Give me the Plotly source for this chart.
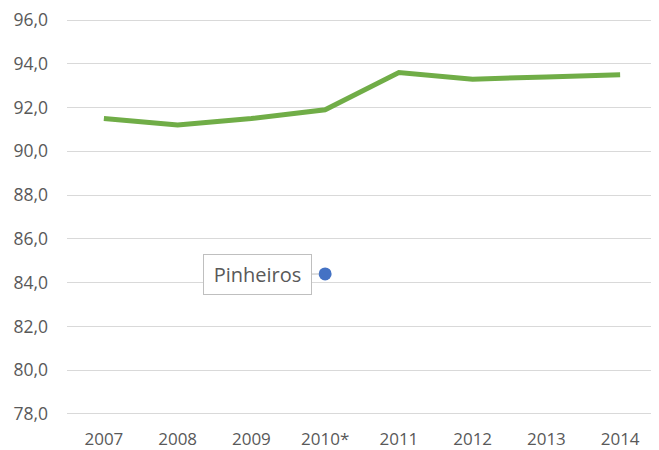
import plotly.graph_objects as go

years = ["2007", "2008", "2009", "2010*", "2011", "2012", "2013", "2014"]
series_values = [91.5, 91.2, 91.5, 91.9, 93.6, 93.3, 93.4, 93.5]
point_category = ["2010*"]
point_value = [84.4]
point_label = "Pinheiros"
y_ticks = [78, 80, 82, 84, 86, 88, 90, 92, 94, 96]

font_family = "Open Sans, Liberation Sans, sans-serif"
text_color = "#595959"

fig = go.Figure()
fig.add_trace(go.Scatter(
    x=years, y=series_values, mode="lines",
    line=dict(color="#70AD47", width=5, shape="linear"),
    showlegend=False, hoverinfo="skip",
))
fig.add_trace(go.Scatter(
    x=point_category, y=point_value, mode="markers",
    marker=dict(color="#4472C4", size=13, line=dict(width=0)),
    showlegend=False,
))

fig.add_annotation(
    x=point_category[0], y=point_value[0], text=point_label,
    showarrow=True, arrowhead=0, arrowwidth=1, arrowcolor="#BFBFBF",
    ax=-68, ay=1, standoff=6, width=95,
    bordercolor="#BFBFBF", borderwidth=1, borderpad=6, bgcolor="white",
    font=dict(family=font_family, size=20, color=text_color),
)

# page body has an 8px default margin; margins compensate for it
fig.update_layout(
    width=659, height=450,
    margin=dict(l=59, r=10, t=11, b=43),
    paper_bgcolor="white", plot_bgcolor="white",
    separators=",.",
    font=dict(family=font_family, size=17, color=text_color),
    xaxis=dict(
        type="category", range=[-0.5, 7.5], automargin=False,
        showgrid=False, showline=False, zeroline=False,
        ticks="", ticklabelstandoff=12,
        tickfont=dict(size=17, color=text_color),
    ),
    yaxis=dict(
        range=[77.95, 96.05], tickvals=y_ticks, tickformat=".1f", automargin=False,
        showgrid=True, gridcolor="#D9D9D9", gridwidth=1,
        showline=False, zeroline=False, ticks="",
        ticklabelstandoff=18, ticklabeloverflow="allow",
        tickfont=dict(size=17.5, color=text_color),
    ),
)

fig.write_html("out.html")
